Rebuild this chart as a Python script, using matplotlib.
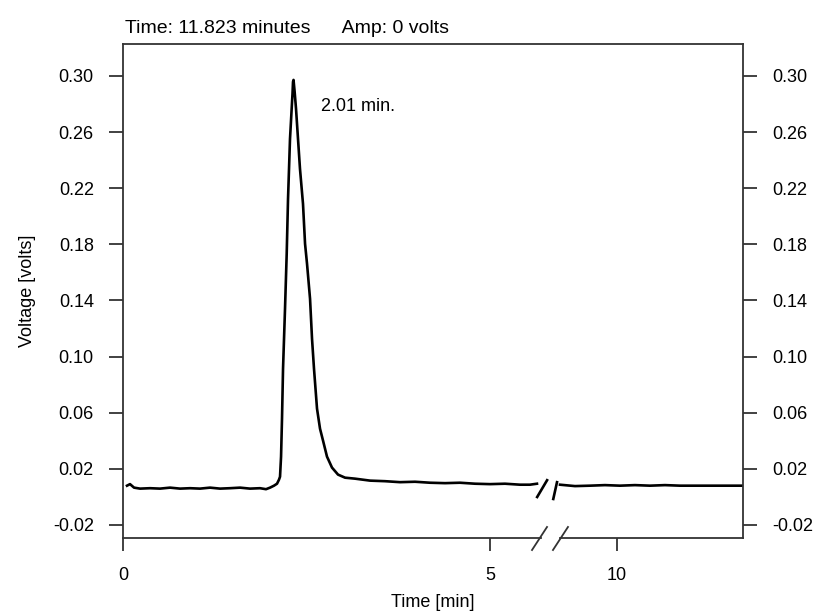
import numpy as np
import matplotlib
matplotlib.use("Agg")
import matplotlib.pyplot as plt
from matplotlib.ticker import FuncFormatter

plt.rcParams['font.family'] = ['Liberation Sans Narrow', 'Liberation Sans', 'DejaVu Sans']

# ---- data ----
time_left = [0.054, 0.095, 0.150, 0.232, 0.368, 0.504, 0.640, 0.777, 0.913, 1.049,
             1.185, 1.322, 1.458, 1.594, 1.730, 1.866, 1.948, 2.003, 2.057, 2.098,
             2.125, 2.139, 2.153, 2.166, 2.180, 2.207, 2.230, 2.248, 2.275, 2.296,
             2.309, 2.316, 2.323, 2.337, 2.357, 2.384, 2.411, 2.452, 2.480, 2.507,
             2.548, 2.575, 2.602, 2.643, 2.684, 2.725, 2.779, 2.847, 2.929, 3.025,
             3.161, 3.365, 3.569, 3.774, 3.978, 4.183, 4.387, 4.591, 4.796, 5.000,
             5.204, 5.409, 5.545, 5.640]
volt_left = [0.0080, 0.0091, 0.0066, 0.0059, 0.0062, 0.0059, 0.0066, 0.0059, 0.0062, 0.0059,
             0.0066, 0.0059, 0.0062, 0.0066, 0.0059, 0.0062, 0.0055, 0.0066, 0.0080, 0.0094,
             0.0123, 0.0144, 0.0287, 0.0557, 0.0913, 0.1341, 0.1733, 0.2124, 0.2552, 0.2751,
             0.2873, 0.2958, 0.2972, 0.2894, 0.2766, 0.2552, 0.2338, 0.2089, 0.1804, 0.1661,
             0.1412, 0.1127, 0.0913, 0.0629, 0.0486, 0.0401, 0.0287, 0.0209, 0.0159, 0.0137,
             0.0130, 0.0116, 0.0112, 0.0105, 0.0108, 0.0101, 0.0098, 0.0101, 0.0094, 0.0091,
             0.0094, 0.0087, 0.0087, 0.0094]
time_right = [9.224, 9.428, 9.632, 9.837, 10.041, 10.245, 10.450, 10.654, 10.859,
              11.131, 11.403, 11.717]
volt_right = [0.0087, 0.0077, 0.0080, 0.0084, 0.0080, 0.0084, 0.0080, 0.0084, 0.0080,
              0.0080, 0.0080, 0.0080]
x_ticks = [0, 5, 10]
y_ticks = [-0.02, 0.02, 0.06, 0.10, 0.14, 0.18, 0.22, 0.26, 0.30]
peak_label = "2.01 min."
header = "Time: 11.823 minutes      Amp: 0 volts"

# broken time axis: [0, BREAK_A] and [BREAK_B, end]
BREAK_A, BREAK_B = 5.80, 9.07
GAP = BREAK_B - BREAK_A


def fwd(t):
    t = np.asarray(t, dtype=float)
    return np.where(t <= BREAK_A, t, np.where(t >= BREAK_B, t - GAP, BREAK_A))


def inv(u):
    u = np.asarray(u, dtype=float)
    return np.where(u <= BREAK_A, u, u + GAP)


fig = plt.figure(figsize=(8.17, 6.12), dpi=100)
ax = fig.add_axes([0.1506, 0.1209, 0.7588, 0.8072])
ax.set_xscale('function', functions=(fwd, inv))

ax.plot(time_left, volt_left, color='black', lw=1.9)
ax.plot(time_right, volt_right, color='black', lw=1.9)

ax.set_xlim(0, 11.717)
ax.set_ylim(-0.0293, 0.3228)
ax.set_xticks(x_ticks)
ax.set_xticklabels([str(v) for v in x_ticks])
ax.set_yticks(y_ticks)
ax.yaxis.set_major_formatter(FuncFormatter(lambda v, p: f"{v:.2f}"))
ax.minorticks_off()

fs = 13
ax.tick_params(axis='y', which='major', left=True, right=True, labelleft=True,
               labelright=True, direction='out', length=10, width=1.3,
               color='#333333', labelsize=fs, pad=11)
ax.tick_params(axis='x', which='major', direction='out', length=9, width=1.3,
               color='#333333', labelsize=fs, pad=12)

for s in ['top', 'left', 'right']:
    ax.spines[s].set_color('#333333')
    ax.spines[s].set_linewidth(1.3)
ax.spines['bottom'].set_visible(False)

# bottom spine in two pieces with break marks
tr = ax.transAxes
ax.plot([0, 0.674], [0, 0], color='#333333', lw=1.3, transform=tr, clip_on=False)
ax.plot([0.705, 1], [0, 0], color='#333333', lw=1.3, transform=tr, clip_on=False)
ax.plot([0.6597, 0.6839], [-0.0243, 0.0223], color='#333333', lw=1.3, transform=tr, clip_on=False)
ax.plot([0.6935, 0.7177], [-0.0243, 0.0223], color='#333333', lw=1.3, transform=tr, clip_on=False)
# break marks on the trace
ax.plot([0.668, 0.684], [0.083, 0.117], color='black', lw=1.9, transform=tr)
ax.plot([0.694, 0.700], [0.079, 0.113], color='black', lw=1.9, transform=tr)

ax.annotate(peak_label, xy=(2.70, 0.278), fontsize=fs, ha='left', va='center')
ax.set_xlabel("Time [min]", fontsize=fs, labelpad=7)
ax.set_ylabel("Voltage [volts]", fontsize=fs, labelpad=12)
ax.text(0.003, 1.022, header, transform=tr, fontsize=14, ha='left', va='baseline')

fig.savefig("out.png", dpi=100)
